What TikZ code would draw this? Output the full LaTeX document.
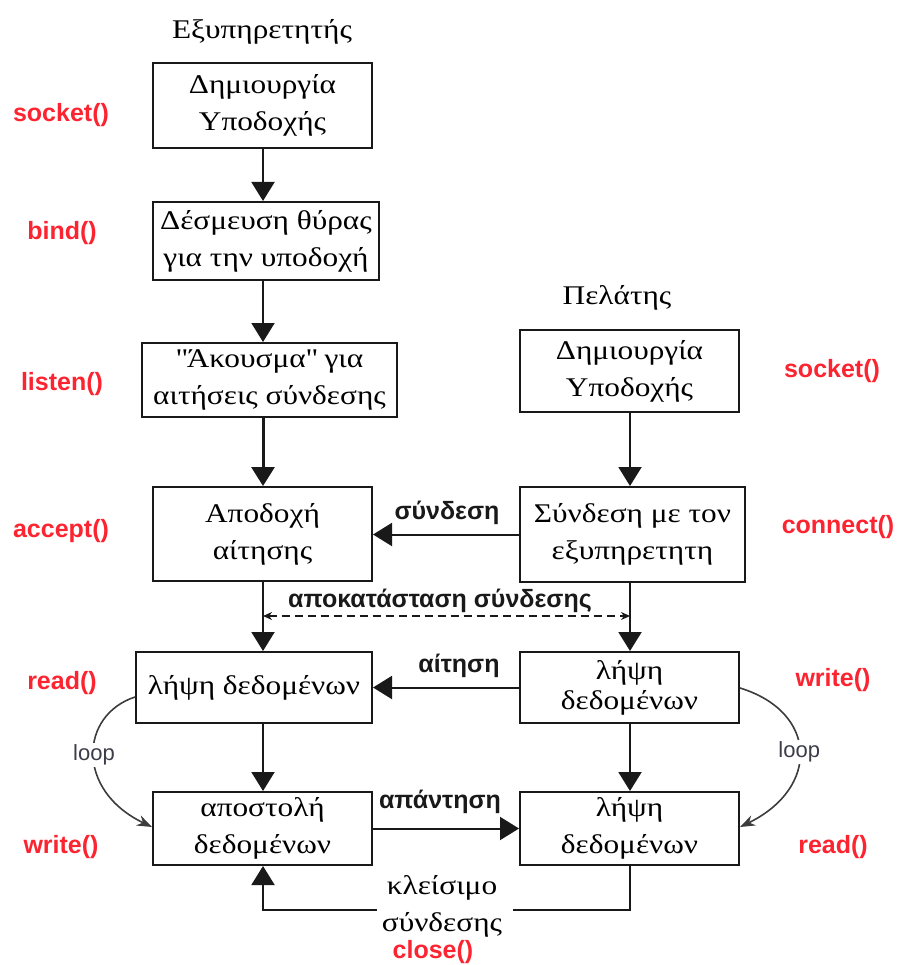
\documentclass[tikz,border=0pt]{standalone}
\usepackage{fontspec}
\setmainfont{Liberation Serif}[FakeStretch=1.16]
\newfontfamily\labelsans{Liberation Sans}
\usetikzlibrary{arrows.meta,calc}
\definecolor{fnred}{RGB}{252,36,48}
\definecolor{loopgray}{RGB}{60,60,75}
\definecolor{ink}{RGB}{25,25,25}

\begin{document}
\begin{tikzpicture}[x=1pt,y=-1pt,
  box/.style={draw=ink,line width=2pt,inner sep=0pt,align=center,
    font=\fontsize{27}{37}\selectfont},
  heading/.style={font=\fontsize{27}{33}\selectfont},
  call/.style={text=fnred,inner sep=0pt,font=\labelsans\bfseries\fontsize{25}{30}\selectfont},
  tag/.style={text=ink,inner sep=0pt,font=\labelsans\bfseries\fontsize{25}{30}\selectfont},
  looptag/.style={text=loopgray,fill=white,inner sep=2pt,font=\labelsans\fontsize{22}{26}\selectfont},
  flow/.style={draw=ink,line width=2pt,-{Triangle[width=23pt,length=19pt]}},
  plain/.style={draw=ink,line width=2pt},
  loopline/.style={draw=ink!85,line width=1.6pt,-{Stealth[length=15pt,width=11pt]}},
  setup/.style={draw=ink,line width=1.6pt,dash pattern=on 8pt off 5pt,
    {Stealth[length=9pt,width=8pt]}-{Stealth[length=9pt,width=8pt]}}
]
\useasboundingbox (0,0) rectangle (898,965);

% column headings
\node[heading] (hsrv) at (262,32) {Εξυπηρετητής};
\node[heading] (hcli) at (617,298) {Πελάτης};

% server steps
\node[box,minimum width=219pt,minimum height=85pt] (s1) at (262.5,105.5) {Δημιουργία\\Υποδοχής};
\node[box,minimum width=226pt,minimum height=78pt] (s2) at (266,241) {Δέσμευση θύρας\\για την υποδοχή};
\node[box,minimum width=255pt,minimum height=74pt] (s3) at (269.5,380) {\textquotedbl Άκουσμα\textquotedbl\ για\\αιτήσεις σύνδεσης};
\node[box,minimum width=219pt,minimum height=94pt] (s4) at (262.5,534) {Αποδοχή\\αίτησης};
\node[box,minimum width=236pt,minimum height=71pt] (s5) at (254,687.5) {λήψη δεδομένων};
\node[box,minimum width=219pt,minimum height=73pt] (s6) at (262.5,828.5) {αποστολή\\δεδομένων};

% client steps
\node[box,minimum width=219pt,minimum height=82pt] (c1) at (629.5,371) {Δημιουργία\\Υποδοχής};
\node[box,minimum width=225pt,minimum height=95pt] (c2) at (632.5,534.5) {Σύνδεση με τον\\εξυπηρετητη};
\node[box,minimum width=219pt,minimum height=71pt,font=\fontsize{27}{30}\selectfont] (c3) at (629.5,687.5) {λήψη\\δεδομένων};
\node[box,minimum width=219pt,minimum height=73pt] (c4) at (629.5,828.5) {λήψη\\δεδομένων};

% system calls
\node[call] (k1) at (61,115) {socket()};
\node[call] (k2) at (62,233) {bind()};
\node[call] (k3) at (62,384) {listen()};
\node[call] (k4) at (61,531) {accept()};
\node[call] (k5) at (62,683) {read()};
\node[call] (k6) at (61,847) {write()};
\node[call] (k7) at (832,371) {socket()};
\node[call] (k8) at (838,527) {connect()};
\node[call] (k9) at (833,680) {write()};
\node[call] (k10) at (833,847) {read()};
\node[call] (k11) at (433,952) {close()};

% vertical flow
\coordinate (sx) at (263,0);
\coordinate (cx) at (630,0);
\draw[flow] (s1.south -| sx) -- (s2.north -| sx);
\draw[flow] (s2.south -| sx) -- (s3.north -| sx);
\draw[flow,line width=3pt] (s3.south -| sx) -- (s4.north -| sx);
\draw[flow] (s4.south -| sx) -- (s5.north -| sx);
\draw[flow] (s5.south -| sx) -- (s6.north -| sx);
\draw[flow] (c1.south -| cx) -- (c2.north -| cx);
\draw[flow] (c2.south -| cx) -- (c3.north -| cx);
\draw[flow] (c3.south -| cx) -- (c4.north -| cx);

% messages between the two sides
\draw[flow] (c2.west) -- (c2.west -| s4.east);
\node[tag] (t1) at (447,513) {σύνδεση};
\draw[flow] (c3.west) -- (c3.west -| s5.east);
\node[tag] (t2) at (459,666) {αίτηση};
\draw[flow] (s6.east) -- (s6.east -| c4.west);
\node[tag] (t3) at (440,802) {απάντηση};

% connection set-up
\coordinate (dL) at (263,616);
\coordinate (dR) at (630,616);
\draw[setup] (dL) -- (dR);
\node[tag] (t4) at (440,601) {αποκατάσταση σύνδεσης};

% closing the connection
\node[font=\fontsize{27}{37}\selectfont,align=center,inner sep=0pt] (t5) at (442,906) {κλείσιμο\\σύνδεσης};
\coordinate (gR) at (513,910);
\coordinate (gL) at (377,910);
\draw[plain] (c4.south -| cx) |- (gR);
\draw[flow] (gL) -| (s6.south -| sx);

% loops
\draw[loopline] ($(s5.west)+(0,9.5)$) .. controls (80,715) and (75,790) .. ($(s6.west)+(0,-1.5)$)
  node[looptag,pos=0.5] (l1) {loop};
\draw[loopline] ($(c3.east)+(0,0.5)$) .. controls (818,712) and (820,788) .. ($(c4.east)+(0,-1.5)$)
  node[looptag,pos=0.5] (l2) {loop};
\end{tikzpicture}
\end{document}
